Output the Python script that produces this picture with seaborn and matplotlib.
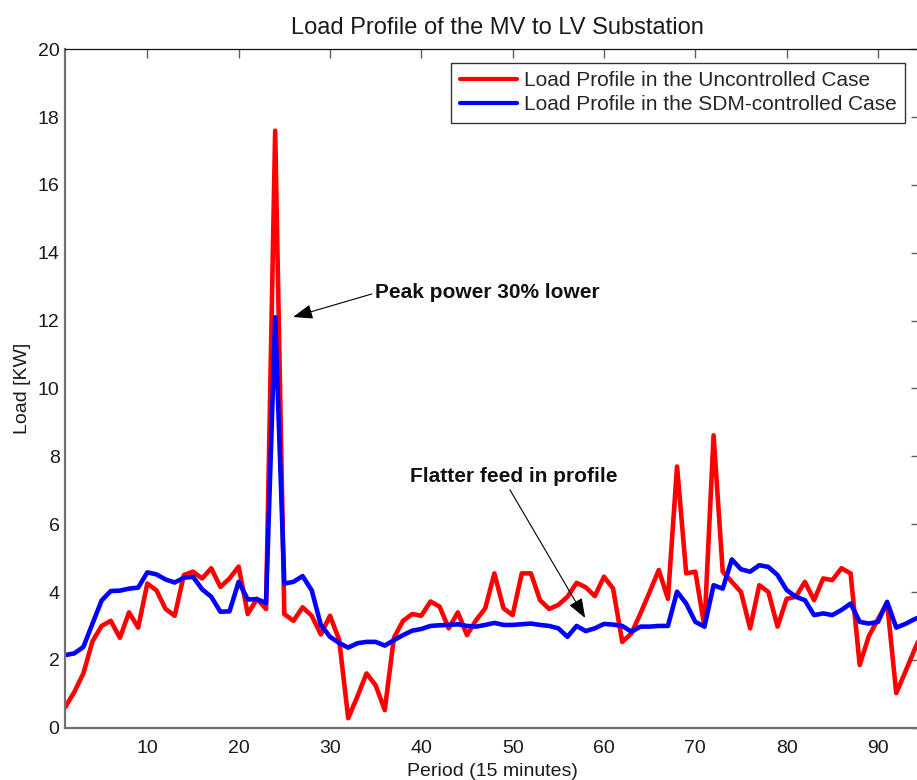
import numpy as np
import pandas as pd
import matplotlib
matplotlib.use("Agg")
import matplotlib.pyplot as plt
import seaborn as sns
from matplotlib.lines import Line2D

period = list(range(1, 97))
uncontrolled = [0.6, 1.05, 1.6, 2.55, 3.0, 3.15, 2.65, 3.4, 2.95, 4.25,
                4.05, 3.5, 3.3, 4.5, 4.6, 4.4, 4.7, 4.15, 4.4, 4.75,
                3.35, 3.8, 3.5, 17.6, 3.35, 3.15, 3.55, 3.3, 2.75, 3.3,
                2.6, 0.28, 0.92, 1.6, 1.25, 0.52, 2.65, 3.15, 3.35, 3.3,
                3.72, 3.57, 2.93, 3.4, 2.73, 3.17, 3.52, 4.55, 3.52, 3.32,
                4.55, 4.55, 3.76, 3.5, 3.62, 3.86, 4.27, 4.14, 3.88, 4.45,
                4.1, 2.53, 2.78, 3.37, 4.0, 4.65, 3.8, 7.7, 4.55, 4.6,
                2.98, 8.62, 4.6, 4.3, 4.0, 2.93, 4.2, 4.0, 2.98, 3.8,
                3.86, 4.3, 3.76, 4.4, 4.35, 4.7, 4.55, 1.85, 2.7, 3.2,
                3.68, 1.02, 1.65, 2.3, 2.9, 3.4]
controlled = [2.14, 2.19, 2.38, 3.07, 3.75, 4.03, 4.04, 4.1, 4.13, 4.58,
              4.52, 4.37, 4.28, 4.42, 4.45, 4.08, 3.86, 3.42, 3.43, 4.3,
              3.78, 3.79, 3.68, 12.1, 4.25, 4.3, 4.47, 4.05, 3.03, 2.68,
              2.5, 2.36, 2.49, 2.53, 2.53, 2.42, 2.58, 2.73, 2.86, 2.91,
              3.0, 3.02, 3.03, 3.05, 3.0, 2.98, 3.03, 3.09, 3.03, 3.03,
              3.05, 3.07, 3.03, 3.0, 2.93, 2.68, 3.0, 2.85, 2.93, 3.06,
              3.04, 3.0, 2.83, 2.98, 2.98, 3.0, 3.0, 4.01, 3.66, 3.12,
              2.98, 4.2, 4.1, 4.96, 4.67, 4.6, 4.79, 4.74, 4.5, 4.06,
              3.86, 3.76, 3.32, 3.37, 3.32, 3.47, 3.66, 3.12, 3.07, 3.12,
              3.71, 2.95, 3.06, 3.2, 3.3, 3.3]
series_names = ["Load Profile in the Uncontrolled Case",
                "Load Profile in the SDM-controlled Case"]
series_colors = ["#ff0000", "#0000ff"]
x_ticks = [10, 20, 30, 40, 50, 60, 70, 80, 90]
y_ticks = [0, 2, 4, 6, 8, 10, 12, 14, 16, 18, 20]

df = pd.DataFrame({
    "Period": period * 2,
    "Load": uncontrolled + controlled,
    "Case": [series_names[0]] * len(period) + [series_names[1]] * len(period),
})

sns.set_style("white")
plt.rcParams["font.family"] = ["Liberation Sans", "DejaVu Sans"]

W, H = 917, 780
fig = plt.figure(figsize=(W / 100, H / 100), dpi=100)
ax_l, ax_r, ax_t, ax_b = 65.1, 920.0, 49.3, 727.7
ax = fig.add_axes([ax_l / W, 1 - ax_b / H, (ax_r - ax_l) / W, (ax_b - ax_t) / H])

sns.lineplot(data=df, x="Period", y="Load", hue="Case",
             palette=dict(zip(series_names, series_colors)),
             linewidth=3.3, ax=ax, legend=False, sort=False)

ax.set_xlim(1, 94.6)
ax.set_ylim(0, 20)
ax.set_xticks(x_ticks)
ax.set_yticks(y_ticks)
ax.tick_params(axis="both", direction="in", length=6.5, width=1.0,
               colors="#606060", labelcolor="#1a1a1a", labelsize=14,
               top=True, right=True)
ax.tick_params(axis="x", pad=9)
ax.tick_params(axis="y", pad=4)
for side in ["left", "bottom"]:
    ax.spines[side].set_color("#707070")
    ax.spines[side].set_linewidth(1.6)
ax.spines["top"].set_color("#111111")
ax.spines["top"].set_linewidth(0.9)
ax.spines["right"].set_color("#707070")

ax.set_xlabel("Period (15 minutes)", fontsize=14, color="#1a1a1a", labelpad=4)
ax.set_ylabel("Load [KW]", fontsize=14, color="#1a1a1a", labelpad=5)
ax.set_title("Load Profile of the MV to LV Substation", fontsize=17,
             color="#1a1a1a", pad=11, x=0.506)

handles = [Line2D([], [], color=c, lw=3.0) for c in series_colors]
leg = ax.legend(handles, series_names, loc="upper right",
                bbox_to_anchor=((905 - ax_l) / (ax_r - ax_l), (ax_b - 62.7) / (ax_b - ax_t)),
                borderaxespad=0, fontsize=15, frameon=True, fancybox=False,
                handlelength=2.75, handletextpad=0.3, labelspacing=0.22,
                borderpad=0.42)
leg.get_frame().set_edgecolor("#333333")
leg.get_frame().set_linewidth(1.0)
leg.get_frame().set_alpha(1)

def px2data(px, py):
    x = 1 + (px - ax_l) / 9.13
    y = (ax_b - py) / ((ax_b - ax_t) / 20)
    return x, y

ax.annotate("Peak power 30% lower", xy=px2data(293, 317), xytext=px2data(375, 293),
            ha="left", va="center", fontsize=15, fontweight="bold", color="#111111",
            arrowprops=dict(arrowstyle="-|>,head_length=0.8,head_width=0.3",
                            color="black", lw=0.8, relpos=(0, 0.5),
                            shrinkA=0, shrinkB=0))
ax.annotate("Flatter feed in profile", xy=px2data(585, 618), xytext=px2data(514, 477),
            ha="center", va="center", fontsize=15, fontweight="bold", color="#111111",
            arrowprops=dict(arrowstyle="-|>,head_length=0.8,head_width=0.3",
                            color="black", lw=0.8, relpos=(0.47, 0),
                            shrinkA=0, shrinkB=0))

fig.savefig("out.png", dpi=100)
